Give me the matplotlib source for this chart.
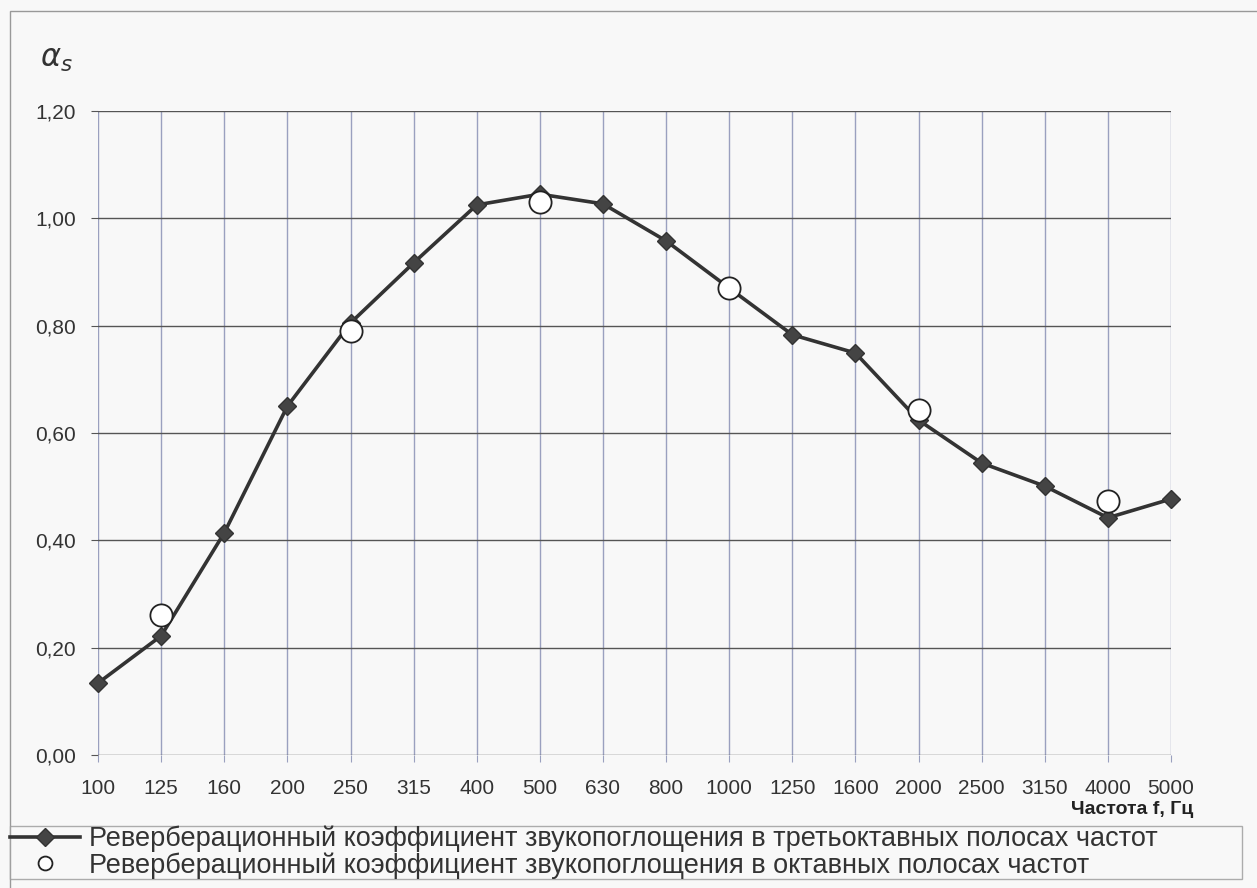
import numpy as np
import matplotlib.pyplot as plt
from matplotlib.ticker import FuncFormatter
from matplotlib.patches import Rectangle

plt.rcParams['font.family'] = ['Liberation Sans', 'DejaVu Sans']

# data
freqs = ['100', '125', '160', '200', '250', '315', '400', '500', '630', '800',
         '1000', '1250', '1600', '2000', '2500', '3150', '4000', '5000']
alpha_third = [0.134, 0.222, 0.414, 0.650, 0.805, 0.917, 1.025, 1.045, 1.027, 0.958,
               0.870, 0.783, 0.749, 0.624, 0.544, 0.501, 0.442, 0.477]
octave_freqs = ['125', '250', '500', '1000', '2000', '4000']
alpha_octave = [0.261, 0.790, 1.030, 0.870, 0.643, 0.473]

label_third = 'Реверберационный коэффициент звукопоглощения в третьоктавных полосах частот'
label_octave = 'Реверберационный коэффициент звукопоглощения в октавных полосах частот'

bg = '#f8f8f8'
fig = plt.figure(figsize=(12.57, 8.88), dpi=100, facecolor=bg)
ax = fig.add_axes([0.078, 0.1498, 0.8536, 0.7252], facecolor=bg)

x = np.arange(len(freqs))
x_oct = [freqs.index(f) for f in octave_freqs]

ax.plot(x, alpha_third, color='#333333', lw=2.6, marker='D', markersize=9.5,
        markerfacecolor='#444444', markeredgecolor='#333333', label=label_third,
        zorder=3, clip_on=False)
ax.plot(x_oct, alpha_octave, ls='none', marker='o', markersize=16,
        markerfacecolor='white', markeredgecolor='#222222', markeredgewidth=1.3,
        label=label_octave, zorder=4, clip_on=False)

ax.set_xlim(0, len(freqs) - 1)
ax.set_ylim(0, 1.2)
ax.set_xticks(x)
ax.set_xticklabels(freqs)
ax.set_yticks(np.arange(0, 1.21, 0.2))
ax.yaxis.set_major_formatter(FuncFormatter(lambda v, p: f'{v:.2f}'.replace('.', ',')))
ax.tick_params(axis='both', labelsize=15, length=5, width=0.8)
ax.tick_params(axis='x', pad=12, colors='#9aa0bf', labelcolor='#333333')
ax.tick_params(axis='y', pad=11, colors='#555555', labelcolor='#333333')

ax.xaxis.grid(True, color='#9aa0bf', lw=1.0)
ax.yaxis.grid(True, color='#555555', lw=1.0)
ax.set_axisbelow(True)
for s in ax.spines.values():
    s.set_visible(False)

fig.text(0.032, 0.925, r'$\alpha_{s}$', fontsize=22, color='#333333')
fig.text(0.949, 0.083, 'Частота f, Гц', fontsize=14, fontweight='bold',
         color='#222222', ha='right')

# outer chart frame
fig.patches.append(Rectangle((0.008, -0.01), 0.995, 0.998, transform=fig.transFigure,
                             fill=False, edgecolor='#999999', lw=1.0))

leg = fig.legend(loc='upper left', bbox_to_anchor=(0.008, -0.02, 0.98, 0.09),
                 mode='expand', fontsize=19.5, frameon=True, fancybox=False,
                 handlelength=2.6, handletextpad=0.3, labelspacing=0.0,
                 borderpad=0.0, borderaxespad=0)
leg.get_frame().set_edgecolor('#999999')
leg.get_frame().set_facecolor(bg)
leg.get_frame().set_linewidth(1.0)
leg.legend_handles[1].set_markersize(10)
for t in leg.get_texts():
    t.set_color('#333333')

fig.savefig('out.png', dpi=100, facecolor=bg)
